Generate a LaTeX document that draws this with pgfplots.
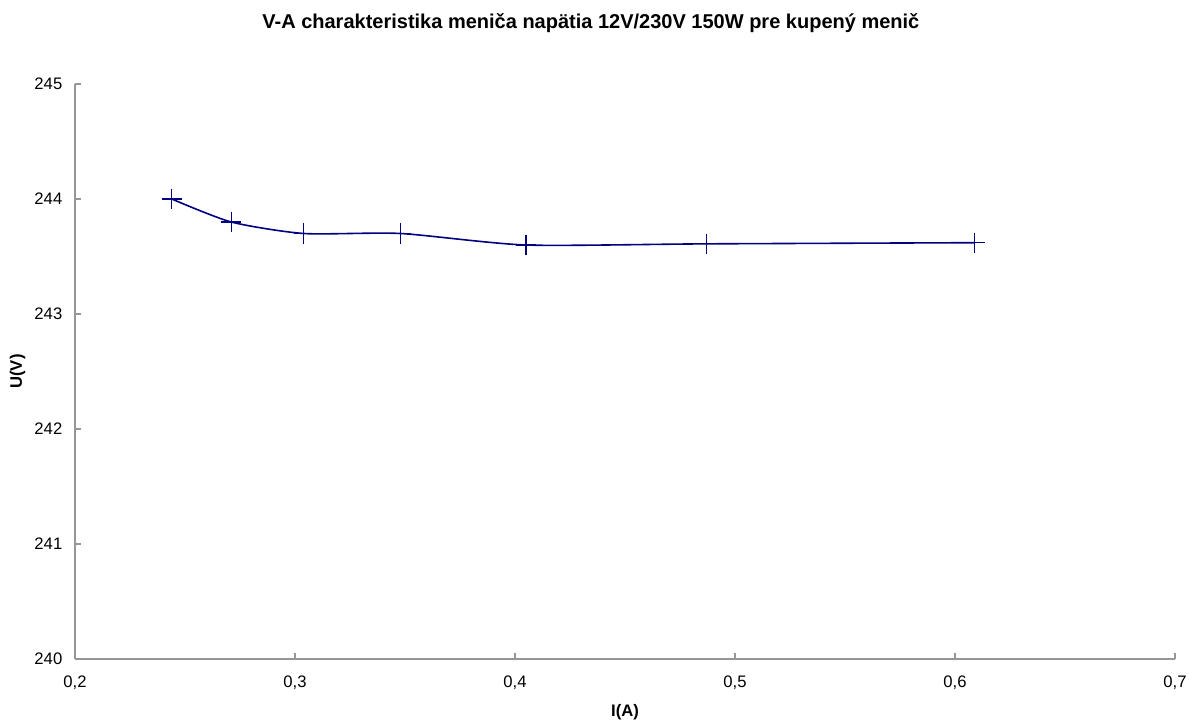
\documentclass[border=0pt]{standalone}
\usepackage{fontspec}
\setmainfont{Liberation Sans}
\usepackage{pgfplots}
\pgfplotsset{compat=1.18}
\definecolor{navy}{RGB}{0,0,128}
\definecolor{axgray}{RGB}{150,150,150}

\begin{document}
\begin{tikzpicture}[x=1pt,y=1pt]
% px -> pt : 0.75
\path[use as bounding box] (-56.25,-46.5) rectangle (835.5,494.25);
\begin{axis}[
	at={(0,0)}, anchor=south west,
	scale only axis,
	width=825pt, height=431.25pt,
	xmin=0.2, xmax=0.7,
	ymin=240, ymax=245,
	xtick={0.2,0.3,0.4,0.5,0.6,0.7},
	ytick={240,241,242,243,244,245},
	axis lines*=left,
	axis line style={axgray, line width=0.8pt, -},
	tick align=inside,
	major tick length=4.5pt,
	tick style={axgray, line width=0.8pt},
	/pgf/number format/assume math mode=true,
	/pgf/number format/use comma,
	xticklabel style={/pgf/number format/fixed, /pgf/number format/fixed zerofill, /pgf/number format/precision=1, font=\fontsize{12.5}{14}\selectfont, yshift=-9pt},
	yticklabel style={/pgf/number format/fixed, font=\fontsize{12.5}{14}\selectfont, xshift=-6pt},
	title={\bfseries V-A charakteristika meniča napätia 12V/230V 150W pre kupený menič},
	title style={font=\fontsize{15}{18}\selectfont, at={(0.469,1)}, anchor=center, yshift=40pt},
	xlabel={\bfseries I(A)},
	ylabel={\bfseries U(V)},
	xlabel style={font=\fontsize{12.5}{14}\selectfont, at={(0.5,0)}, anchor=center, yshift=-40pt},
	every axis y label/.style={at={(rel axis cs:0,0.5)}, xshift=-43pt, rotate=90, anchor=center, font=\fontsize{12.5}{14}\selectfont},
	clip=false,
]
\addplot[navy, line width=1.2pt, smooth, tension=0.4,
	mark=+, mark size=7.5pt, mark options={line width=0.9pt, solid}]
	coordinates {
	(0.244, 244.0)
	(0.271, 243.8)
	(0.304, 243.7)
	(0.348, 243.7)
	(0.405, 243.6)
	(0.487, 243.61)
	(0.609, 243.62)
};
\end{axis}
\end{tikzpicture}
\end{document}
